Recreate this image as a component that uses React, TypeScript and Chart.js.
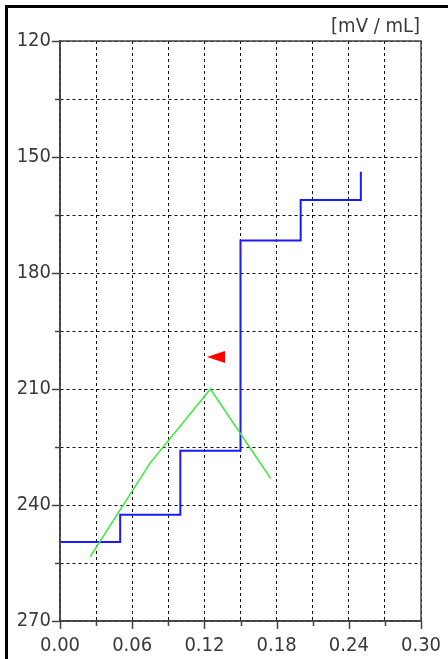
import React, { useEffect, useRef } from 'react';
import { Chart, registerables } from 'chart.js';

Chart.register(...registerables);

// ---- data ----
const stepX = [0, 0.05, 0.1, 0.15, 0.2, 0.25];
const stepY = [249.6, 242.5, 226.0, 171.6, 161.1, 153.8];
const derivX = [0.025, 0.075, 0.125, 0.175];
const derivY = [253.4, 229.1, 210.0, 233.1];
const markerX = [0.1296];
const markerY = [201.7];

const yMin = 120;
const yMax = 270;
const yStep = 15;
const yLabelEvery = 30;
const xMin = 0;
const xMax = 0.3;
const xStep = 0.03;
const xLabelEvery = 2; // every second x tick is labelled
const unitLabel = '[mV / mL]';

const FONT = "'DejaVu Sans Condensed', 'Liberation Sans Narrow', 'DejaVu Sans', sans-serif";
const FONT_SIZE = 20;
const TEXT_COLOR = '#3a3a3a';

function makeTriangle(): HTMLCanvasElement {
  const c = document.createElement('canvas');
  c.width = 18;
  c.height = 12;
  const g = c.getContext('2d')!;
  g.fillStyle = '#ff0000';
  g.beginPath();
  g.moveTo(0, 6);
  g.lineTo(18, 0);
  g.lineTo(18, 12);
  g.closePath();
  g.fill();
  return c;
}

const decorPlugin = {
  id: 'decor',
  afterDraw(chart: any) {
    const ctx = chart.ctx as CanvasRenderingContext2D;
    const { left, right, top, bottom } = chart.chartArea;
    const xs = chart.scales.x;
    const ys = chart.scales.y;
    ctx.save();
    // plot frame
    ctx.strokeStyle = '#444444';
    ctx.lineWidth = 1.5;
    ctx.strokeRect(left, top, right - left, bottom - top);
    // tick marks
    ctx.beginPath();
    const ny = Math.round((yMax - yMin) / yStep);
    for (let i = 0; i <= ny; i++) {
      const v = yMin + i * yStep;
      const py = Math.round(ys.getPixelForValue(v)) + 0.5;
      const len = Math.round(v - yMin) % yLabelEvery === 0 ? 8 : 5;
      ctx.moveTo(left - len, py);
      ctx.lineTo(left, py);
    }
    const nx = Math.round((xMax - xMin) / xStep);
    for (let i = 0; i <= nx; i++) {
      const v = xMin + i * xStep;
      const px = Math.round(xs.getPixelForValue(v)) + 0.5;
      const len = i % xLabelEvery === 0 ? 8 : 5;
      ctx.moveTo(px, bottom);
      ctx.lineTo(px, bottom + len);
    }
    ctx.stroke();
    // outer frame (left & top)
    ctx.fillStyle = '#000000';
    ctx.fillRect(5, 5, 3, chart.height - 5);
    ctx.fillRect(5, 5, chart.width - 5, 3);
    // unit label
    ctx.fillStyle = TEXT_COLOR;
    ctx.font = `${FONT_SIZE}px ${FONT}`;
    ctx.textAlign = 'right';
    ctx.textBaseline = 'alphabetic';
    ctx.fillText(unitLabel, right - 1, top - 9);
    ctx.restore();
  },
};

export default function App() {
  const ref = useRef<HTMLCanvasElement | null>(null);

  useEffect(() => {
    if (!ref.current) return;
    const tri = makeTriangle();
    const chart = new Chart(ref.current, {
      type: 'scatter',
      data: {
        datasets: [
          {
            label: 'deriv',
            data: derivX.map((x, i) => ({ x, y: derivY[i] })),
            showLine: true,
            borderColor: '#33ee33',
            borderWidth: 1.5,
            pointRadius: 0,
            fill: false,
          },
          {
            label: 'curve',
            data: stepX.map((x, i) => ({ x, y: stepY[i] })),
            showLine: true,
            stepped: 'before',
            borderColor: '#1a1aff',
            borderWidth: 2,
            pointRadius: 0,
            fill: false,
          },
          {
            label: 'ep',
            data: markerX.map((x, i) => ({ x, y: markerY[i] })),
            showLine: false,
            pointStyle: tri as any,
            pointRadius: 9,
            backgroundColor: '#ff0000',
            borderColor: '#ff0000',
          },
        ],
      },
      options: {
        animation: false,
        responsive: false,
        devicePixelRatio: 1,
        events: [],
        layout: { padding: { left: 0, top: 41, right: 27, bottom: 0 } },
        plugins: {
          legend: { display: false },
          tooltip: { enabled: false },
          title: { display: false },
        },
        scales: {
          x: {
            type: 'linear',
            min: xMin,
            max: xMax,
            afterFit: (s: any) => {
              s.height = 38;
              s.paddingLeft = 0;
              s.paddingRight = 0;
            },
            grid: { color: '#111111', lineWidth: 1, drawTicks: false },
            border: { display: true, color: '#444444', width: 1.5, dash: [3, 3] },
            ticks: {
              stepSize: xStep,
              autoSkip: false,
              maxRotation: 0,
              padding: 13,
              color: TEXT_COLOR,
              font: { family: FONT, size: FONT_SIZE },
              callback: (v: any) => {
                const k = Math.round((Number(v) - xMin) / xStep);
                return k % xLabelEvery === 0 ? Number(v).toFixed(2) : '';
              },
            },
          },
          y: {
            type: 'linear',
            reverse: true,
            min: yMin,
            max: yMax,
            afterFit: (s: any) => {
              s.width = 60;
              s.paddingTop = 0;
              s.paddingBottom = 0;
            },
            grid: { color: '#111111', lineWidth: 1, drawTicks: false },
            border: { display: true, color: '#444444', width: 1.5, dash: [3, 3] },
            ticks: {
              stepSize: yStep,
              autoSkip: false,
              padding: 9,
              color: TEXT_COLOR,
              font: { family: FONT, size: FONT_SIZE },
              callback: (v: any) => {
                const n = Math.round(Number(v));
                return (n - yMin) % yLabelEvery === 0 ? String(n) : '';
              },
            },
          },
        },
      },
      plugins: [decorPlugin],
    });
    return () => chart.destroy();
  }, []);

  return (
    <div style={{ position: 'absolute', left: 0, top: 0, width: 448, height: 659, background: '#ffffff' }}>
      <canvas ref={ref} width={448} height={659} style={{ display: 'block' }} />
    </div>
  );
}
